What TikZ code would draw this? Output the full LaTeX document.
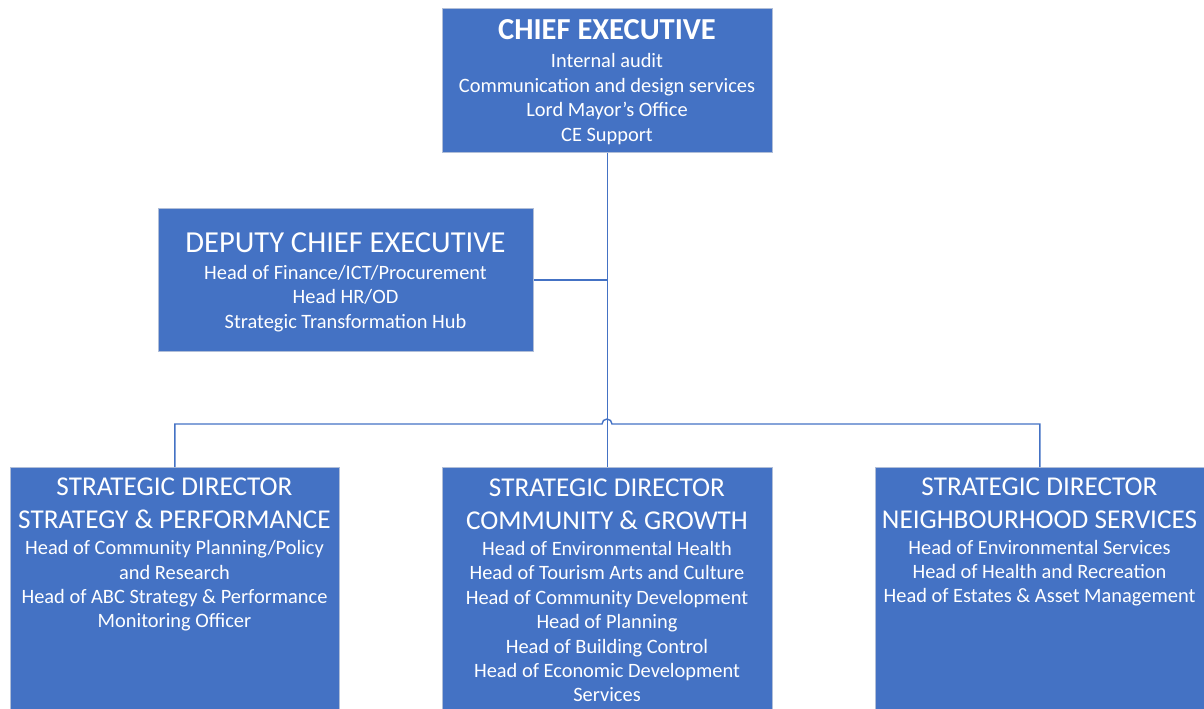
\documentclass[tikz,border=0pt]{standalone}
\usepackage{fontspec}
\setmainfont{Carlito}
\definecolor{boxblue}{HTML}{4472C4}
\definecolor{boxedge}{HTML}{B0BED8}
\definecolor{linkblue}{HTML}{4472C4}
\tikzset{
  orgbox/.style={draw=boxedge, line width=0.8pt, fill=boxblue, inner sep=0pt, anchor=north west},
  titletxt/.style={text=white, inner sep=0pt, align=center, anchor=base, font=\fontsize{30.5}{33}\selectfont},
  dirtitle/.style={text=white, inner sep=0pt, align=center, anchor=base, font=\fontsize{27.2}{32.6}\selectfont},
  bodytxt/.style={text=white, inner sep=0pt, align=center, anchor=base, font=\fontsize{20.4}{24.35}\selectfont},
  conn/.style={draw=linkblue, line width=1.4pt}
}
\begin{document}
\begin{tikzpicture}[x=1pt, y=-1pt]
\useasboundingbox (0,0) rectangle (1204,709);
% boxes
\node[orgbox, minimum width=330pt, minimum height=144pt] (ce) at (442,8.3) {};
\node[orgbox, minimum width=375pt, minimum height=143pt] (dep) at (158,208) {};
\node[orgbox, minimum width=329pt, minimum height=250pt] (sl) at (10,467) {};
\node[orgbox, minimum width=330pt, minimum height=250pt] (sm) at (442,467) {};
\node[orgbox, minimum width=329pt, minimum height=250pt] (sr) at (875,467) {};
% texts (anchored at the baseline of their last line)
\node[titletxt, font=\fontsize{30.5}{33}\selectfont\bfseries] (cet) at (607,39.5) {CHIEF EXECUTIVE};
\node[bodytxt] (ceb) at (607,141) {Internal audit\\Communication and design services\\Lord Mayor’s Office\\CE Support};
\node[titletxt] (dept) at (345.5,252.3) {DEPUTY CHIEF EXECUTIVE};
\node[bodytxt] (depb) at (345.5,328.3) {Head of Finance/ICT/Procurement\\Head HR/OD\\Strategic Transformation Hub};
\node[dirtitle] (slt) at (174.5,528.3) {STRATEGIC DIRECTOR\\STRATEGY \& PERFORMANCE};
\node[bodytxt] (slb) at (174.5,627.7) {Head of Community Planning/Policy\\and Research\\Head of ABC Strategy \& Performance\\Monitoring Officer};
\node[dirtitle] (smt) at (607,529.3) {STRATEGIC DIRECTOR\\COMMUNITY \& GROWTH};
\node[bodytxt] (smb) at (607,701.7) {Head of Environmental Health\\Head of Tourism Arts and Culture\\Head of Community Development\\Head of Planning\\Head of Building Control\\Head of Economic Development\\Services};
\node[dirtitle] (srt) at (1039.5,528.3) {STRATEGIC DIRECTOR\\NEIGHBOURHOOD SERVICES};
\node[bodytxt] (srb) at (1039.5,602.7) {Head of Environmental Services\\Head of Health and Recreation\\Head of Estates \& Asset Management};
% connectors
\coordinate (bus) at (607,424);
\draw[conn] (ce.south) -- (sm.north);
\draw[conn] (dep.east) -- (dep.east -| ce.south);
\draw[conn] (sl.north) -- (sl.north |- bus) -- ([xshift=-5pt]bus) arc[start angle=180, end angle=0, radius=5pt] -- (sr.north |- bus) -- (sr.north);
\end{tikzpicture}
\end{document}
